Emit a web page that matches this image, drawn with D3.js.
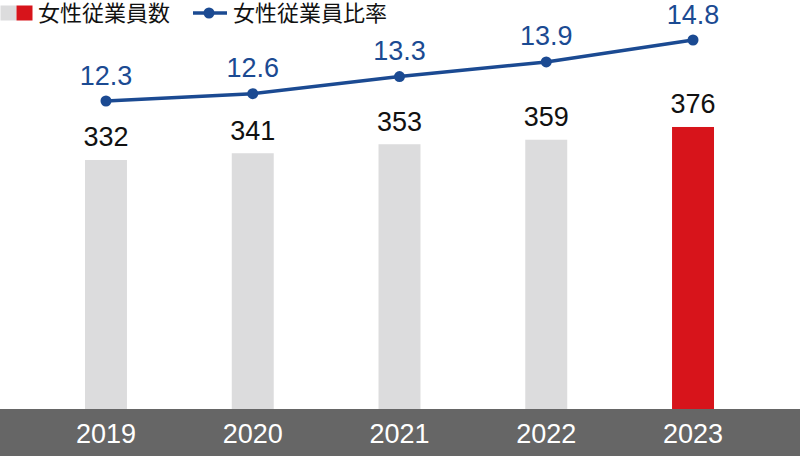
<!DOCTYPE html>
<html>
<head>
<meta charset="utf-8">
<script src="https://cdn.jsdelivr.net/npm/d3@7"></script>
<style>
	body { margin: 0; background: #fff; }
	svg { display: block; font-family: "Liberation Sans", Arial, sans-serif; }
	.jp { font-family: "Noto Sans CJK JP", "Liberation Sans", sans-serif; }
</style>
</head>
<body>
<div id="chart"></div>
<script>
// chart data
var years = ['2019', '2020', '2021', '2022', '2023'];
var employees = [332, 341, 353, 359, 376];
var ratios = [12.3, 12.6, 13.3, 13.9, 14.8];
var legendLabels = ['女性従業員数', '女性従業員比率'];

var width = 800;
var height = 456;
var baseY = 409;

var red = '#d7141b';
var grey = '#dcdcdd';
var blue = '#1b4a92';

var svg = d3.select('#chart').append('svg')
	.attr('width', width)
	.attr('height', height);

var x = d3.scaleBand()
	.domain(years)
	.range([32.6, 766.4])
	.paddingInner(0.714)
	.paddingOuter(0.357);

// bars: 0.75px per employee
var yBar = d3.scaleLinear()
	.domain([0, 545.3])
	.range([baseY, 0]);

var yRate = d3.scaleLinear()
	.domain([12.3, 14.8])
	.range([101, 40]);

// dark axis band
svg.append('rect')
	.attr('x', 0)
	.attr('y', baseY)
	.attr('width', width)
	.attr('height', height - baseY)
	.attr('fill', '#666666');

var xAxis = svg.append('g')
	.attr('transform', 'translate(0,' + baseY + ')')
	.call(d3.axisBottom(x).tickSize(0).tickPadding(0));
xAxis.select('.domain').remove();
xAxis.selectAll('text')
	.attr('dy', null)
	.attr('y', 34)
	.attr('fill', '#fff')
	.attr('font-size', 27)
	.attr('font-family', '"Liberation Sans", Arial, sans-serif');

var bars = svg.selectAll('.bar').data(employees).enter();

bars.append('rect')
	.attr('class', 'bar')
	.attr('x', function(d, i) { return x(years[i]); })
	.attr('width', x.bandwidth())
	.attr('y', function(d) { return yBar(d); })
	.attr('height', function(d) { return baseY - yBar(d); })
	.attr('fill', function(d, i) { return i == years.length - 1 ? red : grey; });

bars.append('text')
	.attr('x', function(d, i) { return x(years[i]) + x.bandwidth() / 2; })
	.attr('y', function(d) { return yBar(d) - 13.5; })
	.attr('text-anchor', 'middle')
	.attr('font-size', 27)
	.attr('fill', '#111')
	.text(function(d) { return d; });

// ratio line
var line = d3.line()
	.x(function(d, i) { return x(years[i]) + x.bandwidth() / 2; })
	.y(function(d) { return yRate(d); });

svg.append('path')
	.datum(ratios)
	.attr('d', line)
	.attr('fill', 'none')
	.attr('stroke', blue)
	.attr('stroke-width', 3.5);

var pts = svg.selectAll('.pt').data(ratios).enter();

pts.append('circle')
	.attr('class', 'pt')
	.attr('cx', function(d, i) { return x(years[i]) + x.bandwidth() / 2; })
	.attr('cy', function(d) { return yRate(d); })
	.attr('r', 5.5)
	.attr('fill', blue);

pts.append('text')
	.attr('x', function(d, i) { return x(years[i]) + x.bandwidth() / 2; })
	.attr('y', function(d) { return yRate(d) - 16.5; })
	.attr('text-anchor', 'middle')
	.attr('font-size', 27)
	.attr('fill', blue)
	.text(function(d) { return d.toFixed(1); });

// legend
var lg = svg.append('g');

lg.append('rect').attr('x', 0.5).attr('y', 5.5).attr('width', 16).attr('height', 15).attr('fill', grey);
lg.append('rect').attr('x', 16.5).attr('y', 5.5).attr('width', 16).attr('height', 15).attr('fill', red);
lg.append('text')
	.attr('class', 'jp')
	.attr('x', 38)
	.attr('y', 21)
	.attr('font-size', 22)
	.attr('fill', '#111')
	.text(legendLabels[0]);

lg.append('line')
	.attr('x1', 193).attr('x2', 227)
	.attr('y1', 13).attr('y2', 13)
	.attr('stroke', blue)
	.attr('stroke-width', 3.5);
lg.append('circle').attr('cx', 209).attr('cy', 13).attr('r', 5.5).attr('fill', blue);
lg.append('text')
	.attr('class', 'jp')
	.attr('x', 233)
	.attr('y', 21)
	.attr('font-size', 22)
	.attr('fill', '#111')
	.text(legendLabels[1]);
</script>
</body>
</html>
